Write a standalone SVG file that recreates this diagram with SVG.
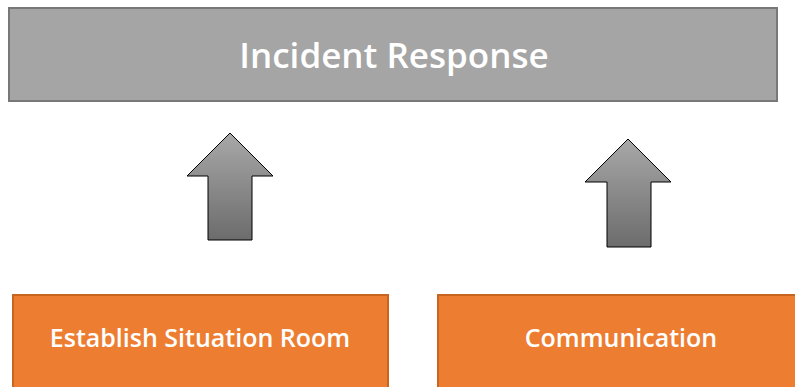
<svg xmlns="http://www.w3.org/2000/svg" width="795" height="387" viewBox="0 0 795 387">
<style>
.lbl{font-family:"Open Sans","Noto Sans",sans-serif;font-weight:600;fill:#ffffff;text-anchor:middle}
.orange{fill:#ed7d31;stroke:#c8651f;stroke-width:2}
.arrow{fill:url(#ag);stroke:#000;stroke-width:1}
</style>
<defs>
<linearGradient id="ag" x1="0" y1="0" x2="0" y2="1">
<stop offset="0" stop-color="#a8a8a8"/>
<stop offset="1" stop-color="#6c6c6c"/>
</linearGradient>
</defs>
<g id="incident-response">
<rect x="9" y="8" width="768" height="93" fill="#a5a5a5" stroke="#787878" stroke-width="2"/>
<text class="lbl" x="394" y="68" font-size="35">Incident Response</text>
</g>
<g id="connectors">
<polygon class="arrow" points="230,133 273,176 252,176 252,240 208,240 208,176 187,176"/>
<polygon class="arrow" points="628,139 671,182 651,182 651,247 607,247 607,182 585,182"/>
</g>
<g id="situation-room">
<rect class="orange" x="13" y="295" width="375" height="100"/>
<text class="lbl" x="200" y="347" font-size="25">Establish Situation Room</text>
</g>
<g id="communication">
<rect class="orange" x="438" y="295" width="370" height="100"/>
<text class="lbl" x="621" y="347" font-size="25">Communication</text>
</g>
</svg>
